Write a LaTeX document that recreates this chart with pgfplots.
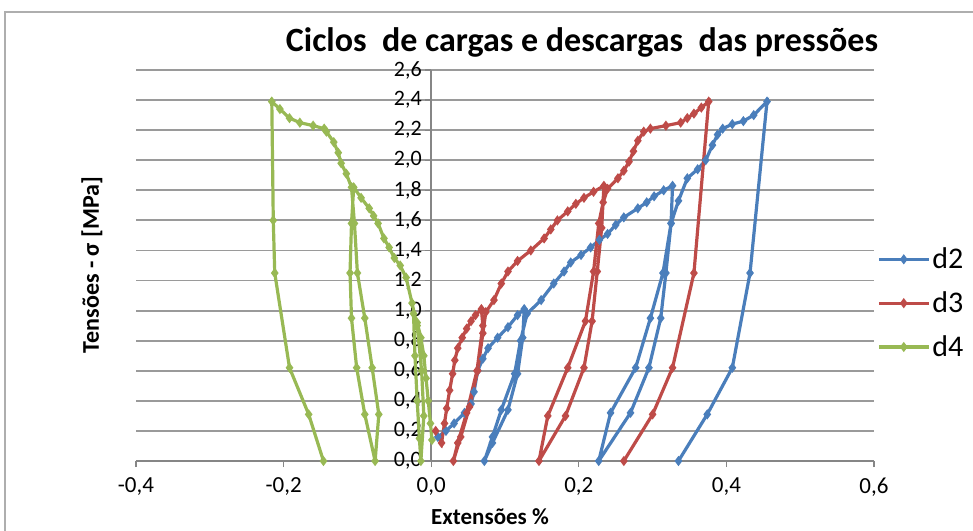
\documentclass[border=0pt]{standalone}
\usepackage{pgfplots}
\pgfplotsset{compat=1.18}
\usepackage{fontspec}
\setmainfont{Carlito}

\definecolor{cblue}{HTML}{4A7EBB}
\definecolor{cred}{HTML}{BE4B48}
\definecolor{cgreen}{HTML}{98B954}
\definecolor{gridgray}{HTML}{9A9A9A}
\definecolor{axgray}{HTML}{868686}

\begin{document}
\begin{tikzpicture}
\useasboundingbox (0pt,0pt) rectangle (973pt,530pt);
\draw[gridgray!80, line width=1.5pt] (5pt,-5pt) -- (5pt,518pt) -- (985pt,518pt);
\node[font=\bfseries\fontsize{34}{37}\selectfont] at (582pt,488pt) {Ciclos\ \ de cargas e descargas\ \ das pressões};
\node[font=\bfseries\fontsize{24}{26}\selectfont, rotate=90] at (92pt,265pt) {Tensões - σ [MPa]};
\node[font=\bfseries\fontsize{23}{26}\selectfont] at (490pt,13pt) {Extensões \%};
\begin{axis}[
  at={(136pt,69pt)}, anchor=south west,
  scale only axis, width=738pt, height=391pt,
  xmin=-0.4, xmax=0.6, ymin=0, ymax=2.6,
  axis x line=bottom, axis y line=middle,
  hide obscured x ticks=false, hide obscured y ticks=false,
  xtick={-0.4,-0.2,0,0.2,0.4,0.6},
  ytick={0,0.2,0.4,0.6,0.8,1.0,1.2,1.4,1.6,1.8,2.0,2.2,2.4,2.6},
  ymajorgrids, grid style={gridgray, line width=1.9pt},
  axis line style={-, axgray, line width=1.6pt},
  tick style={axgray, line width=1.2pt},
  major tick length=6pt, tick align=outside,
  x tick label style={font=\fontsize{23}{23}\selectfont, yshift=-7pt},
  y tick label style={font=\fontsize{22}{22}\selectfont},
  /pgf/number format/.cd, use comma, fixed, fixed zerofill, precision=1, assume math mode=true,
  /pgfplots/.cd,
  legend style={at={(1.004,0.55)}, anchor=north west, draw=none, fill=none,
    font=\fontsize{30}{32}\selectfont, row sep=17.5pt, inner sep=0pt},
  legend image code/.code={\draw[mark repeat=2,mark phase=2,#1] plot coordinates {(0pt,0pt) (25pt,0pt) (50pt,0pt)};},
  every axis plot/.append style={line width=3.2pt, mark=diamond*, mark size=2.5pt, mark options={solid}},
]
% d2
\addplot[cblue] coordinates {
(0.009,0.16) (0.02,0.2) (0.031,0.25) (0.045,0.32) (0.054,0.38) (0.058,0.46) (0.063,0.6) (0.07,0.68)
(0.077,0.75) (0.09,0.82) (0.104,0.89) (0.117,0.97) (0.126,1.01)
(0.124,0.82) (0.117,0.58) (0.104,0.34) (0.083,0.12) (0.072,0.0)
(0.083,0.16) (0.095,0.34) (0.113,0.58) (0.121,0.80) (0.13,0.98)
(0.149,1.07) (0.166,1.18) (0.18,1.26) (0.189,1.32) (0.203,1.37) (0.216,1.42) (0.228,1.47)
(0.239,1.51) (0.25,1.57) (0.261,1.62) (0.28,1.68) (0.292,1.72) (0.302,1.76) (0.315,1.8) (0.327,1.83)
(0.325,1.58) (0.318,1.25) (0.311,0.95) (0.295,0.62) (0.27,0.32) (0.227,0.0)
(0.243,0.32) (0.277,0.62) (0.297,0.95) (0.314,1.25) (0.325,1.58)
(0.335,1.73) (0.347,1.88) (0.361,1.94) (0.372,2.0) (0.381,2.1) (0.388,2.17) (0.395,2.21)
(0.408,2.24) (0.423,2.26) (0.437,2.3) (0.455,2.39)
(0.432,1.25) (0.408,0.62) (0.374,0.31) (0.335,0.0)
};
\addlegendentry{d2}
% d3
\addplot[cred] coordinates {
(0.006,0.2) (0.014,0.12) (0.018,0.25) (0.021,0.35) (0.025,0.47) (0.029,0.58) (0.032,0.67) (0.036,0.75)
(0.042,0.82) (0.048,0.88) (0.054,0.93) (0.06,0.97) (0.068,1.01)
(0.07,0.9) (0.062,0.6) (0.048,0.32) (0.036,0.12) (0.03,0.0)
(0.04,0.16) (0.052,0.36) (0.063,0.6) (0.07,0.85) (0.074,0.99)
(0.085,1.07) (0.095,1.18) (0.104,1.26) (0.117,1.33) (0.135,1.40) (0.153,1.48) (0.162,1.54)
(0.171,1.6) (0.185,1.66) (0.196,1.71) (0.207,1.75) (0.22,1.79) (0.234,1.83)
(0.231,1.55) (0.225,1.26) (0.218,0.93) (0.207,0.62) (0.182,0.30) (0.146,0.0)
(0.158,0.30) (0.185,0.62) (0.209,0.93) (0.22,1.26) (0.227,1.58) (0.233,1.72) (0.239,1.81)
(0.253,1.88) (0.261,1.93) (0.268,1.99) (0.274,2.06) (0.28,2.13) (0.288,2.19) (0.297,2.21)
(0.318,2.23) (0.338,2.25) (0.347,2.28) (0.356,2.31) (0.366,2.35) (0.376,2.39)
(0.356,1.25) (0.327,0.62) (0.30,0.31) (0.261,0.0)
};
\addlegendentry{d3}
% d4
\addplot[cgreen] coordinates {
(0.001,0.14) (-0.001,0.25) (-0.004,0.4) (-0.007,0.55) (-0.01,0.7) (-0.014,0.82) (-0.019,0.92) (-0.024,0.98)
(-0.022,0.7) (-0.019,0.4) (-0.016,0.15) (-0.014,0.0)
(-0.01,0.3) (-0.013,0.6) (-0.019,0.9) (-0.026,1.05) (-0.034,1.22) (-0.042,1.3) (-0.05,1.35)
(-0.057,1.42) (-0.064,1.48) (-0.072,1.58) (-0.078,1.63) (-0.084,1.68) (-0.095,1.75) (-0.105,1.82)
(-0.108,1.58) (-0.11,1.25) (-0.108,0.95) (-0.101,0.62) (-0.09,0.31) (-0.076,0.0)
(-0.071,0.31) (-0.08,0.62) (-0.09,0.95) (-0.1,1.25) (-0.104,1.58) (-0.108,1.82)
(-0.115,1.91) (-0.122,1.98) (-0.126,2.05) (-0.132,2.12) (-0.142,2.19) (-0.145,2.21)
(-0.16,2.23) (-0.178,2.25) (-0.192,2.28) (-0.205,2.34) (-0.216,2.39)
(-0.214,1.6) (-0.212,1.25) (-0.192,0.62) (-0.166,0.31) (-0.146,0.0)
};
\addlegendentry{d4}
\end{axis}
\end{tikzpicture}
\end{document}
